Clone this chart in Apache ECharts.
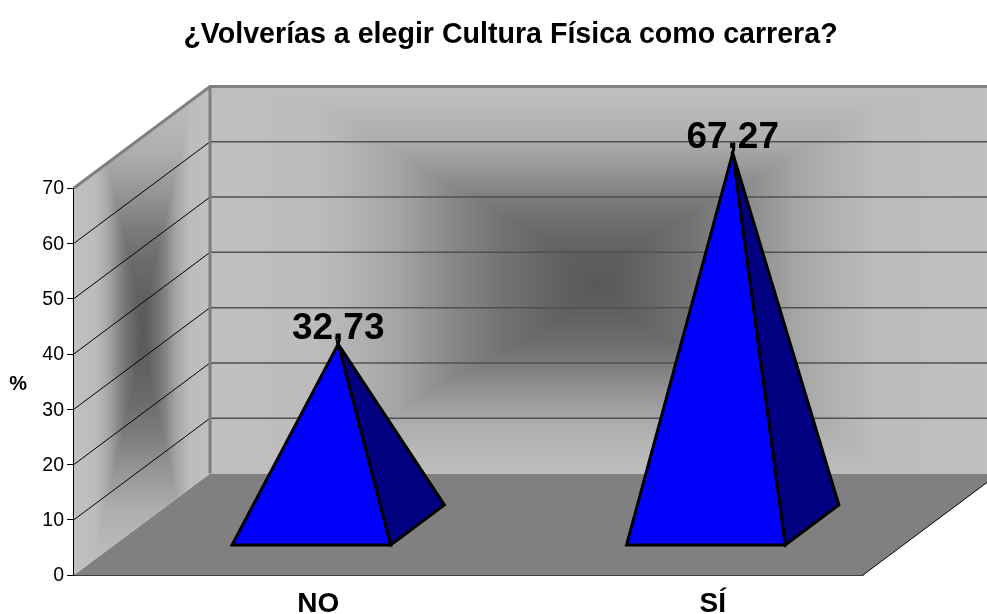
<!DOCTYPE html>
<html><head><meta charset="utf-8">
<style>html,body{margin:0;padding:0;background:#fff}#c{width:987px;height:614px}</style>
<script src="https://cdn.jsdelivr.net/npm/echarts@6/dist/echarts.min.js"></script>
</head><body><div id="c"></div>
<script>
const titleText = '¿Volverías a elegir Cultura Física como carrera?';
const categories = ['NO', 'SÍ'];
const values = [32.73, 67.27];
const gridValues = [0, 10, 20, 30, 40, 50, 60, 70];
const yName = '%';

const DX = 136, DY = -101.5;
const FONT = '"Liberation Sans", Arial, sans-serif';
// grey level against the distance from the wall's edge (0) to its centre (1)
const V_STOPS = [[0, 192], [.27, 174], [.43, 150], [.58, 124], [.71, 108], [.85, 96], [1, 88]];
const H_STOPS = [[0, 192], [.3, 188], [.38, 180], [.51, 164], [.64, 136], [.77, 114], [.9, 98], [1, 88]];

function level(stops, f) {
  f = Math.min(1, Math.max(0, f));
  for (let i = 1; i < stops.length; i++) {
    if (f <= stops[i][0]) {
      const a = stops[i - 1], b = stops[i];
      return a[1] + (b[1] - a[1]) * (f - a[0]) / (b[0] - a[0]);
    }
  }
  return stops[stops.length - 1][1];
}
function wallTexture(w, h, cx, cy, halfW, halfH) {
  const cv = document.createElement('canvas');
  cv.width = w; cv.height = h;
  const ctx = cv.getContext('2d');
  const img = ctx.createImageData(w, h);
  for (let y = 0; y < h; y++) {
    for (let x = 0; x < w; x++) {
      const u = 1 - Math.abs(x - cx) / halfW, t = 1 - Math.abs(y - cy) / halfH;
      const g = Math.max(level(H_STOPS, u), level(V_STOPS, t));
      const k = (y * w + x) * 4;
      img.data[k] = img.data[k + 1] = img.data[k + 2] = g;
      img.data[k + 3] = 255;
    }
  }
  ctx.putImageData(img, 0, 0);
  return cv;
}
function wall(x0, y0, x1, y1, cx, cy, clip) {
  const w = Math.ceil(x1 - x0), h = Math.ceil(y1 - y0);
  return { type: 'image', clipPath: { type: 'polygon', shape: { points: clip } },
    style: { image: wallTexture(w, h, cx - x0, cy - y0, Math.max(cx - x0, x1 - cx), Math.max(cy - y0, y1 - cy)), x: x0, y: y0, width: w, height: h } };
}
let wallCache = null;
function renderWalls(params, api) {
  const g = params.coordSys;
  const L = g.x, R = g.x + g.width, B = g.y + g.height, T = g.y;
  const bl = L + DX, br = R + DX, bB = B + DY, bT = T + DY;
  const kids = [];
  kids.push({ type: 'polygon', shape: { points: [[L, B], [bl, bB], [br, bB], [R, B]] },
    style: { fill: '#808080' } });
  if (!wallCache) {
    wallCache = [
      wall(bl, bT, br, bB, 596, 282, [[bl, bT], [br, bT], [br, bB], [bl, bB]]),
      wall(L, bT, bl, B, (L + bl) / 2, (bT + B) / 2, [[L, T], [bl, bT], [bl, bB], [L, B]])
    ];
  }
  kids.push(wallCache[0], wallCache[1]);
  gridValues.forEach(v => {
    const y = api.coord([0, v])[1];
    if (v > 0 && v < 70) {
      kids.push({ type: 'line', shape: { x1: L, y1: y, x2: bl, y2: y + DY }, style: { stroke: '#000', lineWidth: 1 } });
      kids.push({ type: 'line', shape: { x1: bl, y1: y + DY, x2: br, y2: y + DY }, style: { stroke: '#505050', lineWidth: 1.5 } });
    }
  });
  const edge = { stroke: '#808080', lineWidth: 3 };
  kids.push({ type: 'polyline', shape: { points: [[L, T], [bl, bT], [br, bT]] }, style: { ...edge, fill: null } });
  kids.push({ type: 'line', shape: { x1: bl, y1: bT, x2: bl, y2: bB }, style: edge });
  kids.push({ type: 'line', shape: { x1: R, y1: B, x2: br, y2: bB }, style: { stroke: '#000', lineWidth: 1 } });
  return { type: 'group', children: kids };
}
function renderPyramid(params, api) {
  const i = api.value(0), v = api.value(1);
  const p0 = api.coord([i, 0]), p1 = api.coord([i, v]);
  const w = api.size([1, 0])[0] * 0.402;
  const f0 = 0.295, f1 = 0.69, fm = (f0 + f1) / 2;
  const cx = p0[0];
  const fy = p0[1] + DY * f0, fxo = DX * f0;
  const left = [cx + fxo - w / 2, fy], right = [cx + fxo + w / 2, fy];
  const back = [right[0] + DX * (f1 - f0), p0[1] + DY * f1];
  const apex = [cx + DX * fm, p1[1] + DY * fm];
  const stroke = { stroke: '#000', lineWidth: 3, lineJoin: 'miter' };
  return { type: 'group', children: [
    { type: 'polygon', shape: { points: [right, back, apex] }, style: { fill: '#000080', ...stroke } },
    { type: 'polygon', shape: { points: [left, right, apex] }, style: { fill: '#0000ff', ...stroke } },
    { type: 'text', x: apex[0], y: apex[1] + 3.5, style: {
      text: v.toFixed(2).replace('.', ','), fill: '#000', align: 'center', verticalAlign: 'bottom',
      font: 'bold 37px ' + FONT } }
  ] };
}

const chart = echarts.init(document.getElementById('c'), null, { renderer: 'canvas' });
chart.setOption({
  animation: false,
  backgroundColor: '#ffffff',
  title: { text: titleText, left: 505.5, top: 16, textAlign: 'center',
    textStyle: { fontFamily: FONT, fontWeight: 'bold', fontSize: 28.6, color: '#000' } },
  grid: { left: 74, top: 188, width: 789, height: 387, containLabel: false, outerBoundsMode: 'none' },
  xAxis: { type: 'category', data: categories,
    axisLine: { lineStyle: { color: '#000', width: 1.5 } }, axisTick: { show: false }, splitLine: { show: false },
    axisLabel: { margin: 15, color: '#000', fontFamily: FONT, fontWeight: 'bold', fontSize: 28, padding: [0, 0, 0, 94] } },
  yAxis: { type: 'value', min: 0, max: 70, interval: 10, name: yName, nameLocation: 'middle', nameGap: 47, nameRotate: 0,
    nameTextStyle: { color: '#000', fontFamily: FONT, fontWeight: 'bold', fontSize: 20, verticalAlign: 'top', lineHeight: 6 },
    axisLine: { show: true, lineStyle: { color: '#000', width: 2 } },
    axisTick: { show: true, length: 7, lineStyle: { color: '#000', width: 1 } },
    splitLine: { show: false },
    axisLabel: { margin: 10, color: '#000', fontFamily: FONT, fontSize: 19.5, verticalAlign: 'top', lineHeight: 2 } },
  series: [
    { type: 'custom', silent: true, z: 1, clip: false, renderItem: renderWalls, data: [[0]], encode: { x: 0 } },
    { type: 'custom', silent: true, z: 3, clip: false, renderItem: renderPyramid,
      data: values.map((v, i) => [i, v]), encode: { x: 0, y: 1 } }
  ]
});
</script></body></html>
